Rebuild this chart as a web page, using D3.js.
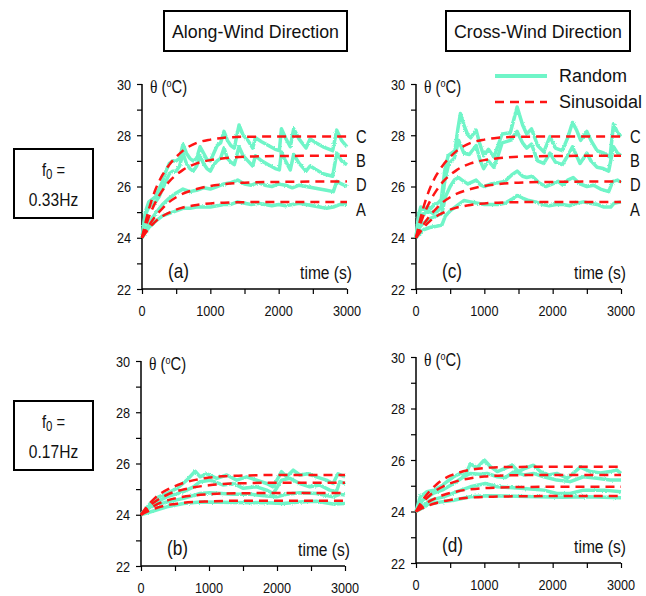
<!DOCTYPE html>
<html>
<head>
<meta charset="utf-8">
<script src="https://cdn.jsdelivr.net/npm/d3@7"></script>
<style>
  body { margin: 0; background: #fff; }
  text { font-family: "Liberation Sans", Arial, sans-serif; fill: #111; }
</style>
</head>
<body>
<div id="d3-container"></div>
<script>
/**
 * CONSTANTS AND GLOBALS
 * */
const width = 646,
  height = 596;

const greenColor = "#6ff5c8",
  redColor = "#ff1414",
  squeeze = 0.82; // the figure uses a condensed face

/**
 * DATA
 * */
const xTicks = [0, 1000, 2000, 3000];
const yTicks = [22, 24, 26, 28, 30];
const curveNames = ["C", "B", "D", "A"];
const curveLabelValues = [27.95, 27.0, 26.05, 25.1];

// sinusoidal input, shared time grid
const sinTimes = [0, 100, 200, 300, 400, 500, 600, 800, 1000, 1200, 1500, 2000, 3000];
const a_sinC = [24, 25.1, 25.9, 26.45, 26.85, 27.15, 27.4, 27.7, 27.83, 27.9, 27.94, 27.95, 27.95];
const a_sinB = [24, 24.8, 25.4, 25.85, 26.2, 26.45, 26.65, 26.9, 27.03, 27.1, 27.16, 27.19, 27.2];
const a_sinD = [24, 24.47, 24.85, 25.15, 25.4, 25.58, 25.72, 25.9, 26.02, 26.09, 26.15, 26.18, 26.2];
const a_sinA = [24, 24.36, 24.64, 24.84, 24.98, 25.1, 25.18, 25.28, 25.34, 25.37, 25.39, 25.4, 25.4];

const b_sin1 = [24, 24.36, 24.64, 24.85, 25.0, 25.12, 25.22, 25.36, 25.45, 25.5, 25.53, 25.55, 25.55];
const b_sin2 = [24, 24.28, 24.5, 24.67, 24.8, 24.9, 24.97, 25.08, 25.15, 25.2, 25.23, 25.25, 25.25];
const b_sin3 = [24, 24.2, 24.36, 24.48, 24.57, 24.64, 24.69, 24.76, 24.8, 24.83, 24.84, 24.85, 24.85];
const b_sin4 = [24, 24.13, 24.24, 24.32, 24.38, 24.42, 24.46, 24.5, 24.52, 24.54, 24.55, 24.55, 24.55];

const d_sin1 = [24, 24.45, 24.79, 25.05, 25.25, 25.39, 25.49, 25.62, 25.69, 25.72, 25.73, 25.74, 25.74];
const d_sin2 = [24, 24.35, 24.62, 24.83, 24.98, 25.09, 25.18, 25.29, 25.36, 25.39, 25.41, 25.42, 25.42];
const d_sin3 = [24, 24.22, 24.4, 24.53, 24.64, 24.72, 24.78, 24.86, 24.91, 24.93, 24.95, 24.96, 24.96];
const d_sin4 = [24, 24.14, 24.25, 24.33, 24.4, 24.45, 24.49, 24.54, 24.57, 24.58, 24.59, 24.6, 24.6];

// random input, [time, theta]
const a_randC = [[0,24],[50,25.0],[100,25.4],[150,25.5],[200,25.6],[250,25.9],[300,26.2],[350,26.6],[400,26.9],[450,27.0],[500,27.0],[550,27.1],[600,27.65],[650,27.3],[700,27.1],[750,27.0],[800,27.1],[850,27.55],[900,27.3],[950,27.05],[1000,27.0],[1050,27.3],[1100,27.6],[1150,27.7],[1200,28.15],[1250,27.8],[1300,27.6],[1350,27.5],[1420,28.4],[1480,28.0],[1550,27.8],[1620,27.5],[1660,27.9],[1750,27.75],[1850,27.6],[1950,27.45],[2010,27.4],[2040,28.25],[2100,27.9],[2170,27.55],[2220,28.25],[2300,27.85],[2400,27.5],[2460,27.85],[2550,27.7],[2650,27.55],[2790,27.4],[2850,28.2],[2920,27.8],[3000,27.55]];
const a_randB = [[0,24],[50,24.9],[100,25.2],[150,25.3],[200,25.4],[250,25.6],[300,25.9],[350,26.2],[400,26.5],[450,26.6],[500,26.6],[550,26.8],[600,27.3],[650,26.9],[700,26.7],[750,26.6],[800,26.8],[850,27.2],[900,26.9],[950,26.7],[1000,26.6],[1050,26.85],[1100,27.0],[1150,27.1],[1200,27.5],[1250,27.1],[1300,26.95],[1350,26.85],[1420,27.55],[1480,27.2],[1550,27.0],[1620,26.8],[1660,27.2],[1750,27.0],[1850,26.85],[1950,26.7],[2010,26.65],[2040,27.35],[2100,27.0],[2170,26.65],[2220,27.25],[2300,26.9],[2400,26.6],[2460,26.8],[2550,26.65],[2650,26.5],[2790,26.4],[2850,27.3],[2920,27.0],[3000,26.85]];
const a_randD = [[0,24],[100,24.6],[200,24.95],[300,25.3],[400,25.55],[500,25.75],[600,25.9],[700,25.8],[800,25.85],[900,25.95],[1000,25.9],[1100,26.0],[1200,26.1],[1300,26.15],[1400,26.25],[1500,26.1],[1600,26.05],[1700,26.15],[1800,26.05],[1900,26.0],[2000,26.1],[2100,26.05],[2200,25.95],[2300,26.05],[2400,26.0],[2500,25.95],[2600,25.9],[2700,25.85],[2800,25.8],[2850,26.2],[2920,26.1],[3000,26.0]];
const a_randA = [[0,24],[100,24.4],[200,24.65],[300,24.85],[400,24.95],[500,25.05],[600,25.15],[700,25.15],[800,25.2],[900,25.2],[1000,25.2],[1100,25.25],[1200,25.3],[1300,25.3],[1400,25.4],[1500,25.35],[1600,25.3],[1700,25.35],[1800,25.3],[1900,25.25],[2000,25.3],[2100,25.25],[2200,25.3],[2300,25.35],[2400,25.3],[2500,25.25],[2600,25.2],[2700,25.15],[2800,25.2],[2900,25.3],[3000,25.3]];

const c_randC = [[0,24],[40,24.9],[70,25.2],[120,25.1],[170,25.2],[220,25.15],[270,25.3],[320,25.35],[370,25.5],[420,26.6],[470,27.2],[520,27.3],[570,27.4],[610,28.2],[650,28.85],[700,28.4],[760,28.0],[800,27.9],[880,28.2],[930,27.7],[990,27.2],[1060,27.45],[1140,27.15],[1200,27.6],[1260,28.05],[1380,28.1],[1480,29.1],[1560,28.4],[1620,28.05],[1690,28.25],[1780,27.6],[1870,27.35],[1960,27.95],[2040,27.5],[2140,27.4],[2220,27.9],[2290,28.5],[2350,28.2],[2410,27.8],[2500,28.15],[2560,27.8],[2650,27.4],[2750,27.3],[2840,27.15],[2890,28.45],[2950,28.1],[3000,27.95]];
const c_randB = [[0,24],[50,25.0],[100,24.9],[170,25.05],[250,24.95],[320,25.05],[370,25.2],[420,26.2],[480,26.9],[560,27.1],[624,27.8],[700,27.3],[780,27.25],[880,27.6],[940,27.0],[990,26.7],[1060,27.0],[1140,26.75],[1200,27.2],[1260,27.7],[1380,27.8],[1480,28.15],[1560,27.7],[1620,27.5],[1690,27.65],[1780,27.0],[1870,26.9],[1960,27.3],[2040,26.95],[2140,26.85],[2220,27.2],[2290,27.55],[2350,27.2],[2400,26.9],[2500,27.3],[2560,27.0],[2650,26.75],[2740,26.7],[2820,26.6],[2890,27.55],[2950,27.3],[3000,27.2]];
const c_randD = [[0,24],[50,24.4],[100,24.55],[200,24.75],[300,24.85],[380,24.95],[430,25.6],[500,26.0],[560,26.25],[620,26.35],[700,26.2],[760,26.1],[880,26.25],[950,26.05],[1000,26.0],[1100,26.1],[1200,26.15],[1300,26.2],[1400,26.45],[1480,26.6],[1560,26.4],[1620,26.35],[1700,26.4],[1800,26.15],[1900,26.0],[2000,26.1],[2080,26.2],[2150,26.05],[2220,26.25],[2300,26.35],[2400,26.1],[2500,26.0],[2600,26.05],[2700,25.9],[2820,25.8],[2880,26.2],[2950,26.25],[3000,26.15]];
const c_randA = [[0,24],[100,24.3],[200,24.4],[300,24.45],[380,24.5],[430,24.85],[500,25.05],[600,25.25],[700,25.45],[800,25.4],[900,25.35],[1000,25.3],[1100,25.3],[1200,25.3],[1300,25.35],[1400,25.5],[1480,25.65],[1560,25.55],[1650,25.45],[1750,25.4],[1850,25.3],[1950,25.25],[2050,25.3],[2150,25.3],[2250,25.25],[2350,25.35],[2450,25.4],[2550,25.35],[2650,25.3],[2750,25.2],[2850,25.2],[2900,25.35],[3000,25.4]];

const b_rand1 = [[0,24],[137,24.44],[260,24.7],[381,24.83],[528,25.03],[674,25.35],[796,25.7],[870,25.48],[967,25.6],[1114,25.42],[1261,25.55],[1407,25.35],[1554,25.48],[1700,25.35],[1847,25.22],[1945,25.09],[2067,25.68],[2140,25.48],[2238,25.74],[2335,25.55],[2458,25.6],[2580,25.48],[2726,25.35],[2824,25.22],[2897,25.6],[3000,25.48]];
const b_rand2 = [[0,24],[137,24.38],[381,24.7],[625,24.9],[772,25.09],[870,25.29],[1016,25.35],[1212,25.16],[1358,25.22],[1505,25.03],[1700,25.09],[1847,24.96],[1945,24.83],[2067,25.35],[2190,25.42],[2335,25.22],[2482,25.09],[2628,25.16],[2775,24.96],[2873,24.9],[2922,25.29],[3000,25.22]];
const b_rand3 = [[0,24],[137,24.31],[381,24.5],[625,24.64],[870,24.83],[1016,24.86],[1358,24.8],[1603,24.8],[1847,24.73],[1994,24.7],[2140,24.8],[2335,24.86],[2580,24.83],[2824,24.7],[2922,24.8],[3000,24.77]];
const b_rand4 = [[0,24],[381,24.31],[625,24.44],[870,24.5],[1358,24.48],[1847,24.47],[2090,24.44],[2335,24.5],[2580,24.53],[2824,24.42],[3000,24.44]];

const d_rand1 = [[0,24],[63,24.57],[161,24.77],[258,24.83],[356,24.96],[454,25.16],[551,25.35],[649,25.48],[722,25.42],[795,25.85],[893,25.7],[1000,26.0],[1090,25.74],[1190,25.55],[1310,25.68],[1410,25.8],[1500,25.55],[1600,25.68],[1720,25.8],[1820,25.55],[1940,25.42],[2060,25.48],[2210,25.29],[2405,25.72],[2550,25.55],[2700,25.5],[2840,25.55],[2940,25.61],[3000,25.48]];
const d_rand2 = [[0,24],[100,24.45],[250,24.7],[400,24.85],[551,25.09],[698,25.35],[795,25.48],[940,25.45],[1040,25.48],[1190,25.35],[1310,25.32],[1434,25.55],[1580,25.42],[1720,25.48],[1870,25.35],[2060,25.22],[2258,25.16],[2450,25.35],[2650,25.29],[2840,25.22],[3000,25.22]];
const d_rand3 = [[0,24],[210,24.44],[405,24.57],[600,24.77],[795,24.96],[1015,25.09],[1190,24.96],[1530,24.9],[1870,24.83],[2060,24.7],[2258,24.7],[2450,24.83],[2750,24.83],[3000,24.77]];
const d_rand4 = [[0,24],[210,24.31],[551,24.44],[795,24.57],[1040,24.61],[1290,24.6],[1770,24.57],[2160,24.55],[2500,24.57],[3000,24.53]];

/**
 * LAYOUT
 * */
const panels = [
  { id: "(a)", left: 142, right: 347, top: 84, bottom: 289, rand: [a_randC, a_randB, a_randD, a_randA], sin: [a_sinC, a_sinB, a_sinD, a_sinA], labels: true },
  { id: "(c)", left: 416, right: 621, top: 84, bottom: 289, rand: [c_randC, c_randB, c_randD, c_randA], sin: [a_sinC, a_sinB, a_sinD, a_sinA], labels: true },
  { id: "(b)", left: 141, right: 345, top: 361, bottom: 566, rand: [b_rand1, b_rand2, b_rand3, b_rand4], sin: [b_sin1, b_sin2, b_sin3, b_sin4], labels: false },
  { id: "(d)", left: 416, right: 621, top: 357, bottom: 563, rand: [d_rand1, d_rand2, d_rand3, d_rand4], sin: [d_sin1, d_sin2, d_sin3, d_sin4], labels: false }
];

const svg = d3
  .select("#d3-container")
  .append("svg")
  .attr("width", width)
  .attr("height", height);

// slight roughness for the measured (random) traces
const defs = svg.append("defs");
const rough = defs.append("filter").attr("id", "rough")
  .attr("x", "-5%").attr("y", "-20%").attr("width", "110%").attr("height", "140%");
rough.append("feTurbulence").attr("type", "fractalNoise").attr("baseFrequency", 0.9)
  .attr("numOctaves", 1).attr("seed", 3).attr("result", "noise");
rough.append("feDisplacementMap").attr("in", "SourceGraphic").attr("in2", "noise")
  .attr("scale", 2.5).attr("xChannelSelector", "R").attr("yChannelSelector", "G");

// condensed text: regular face squeezed horizontally
function narrowText(parent, x, y, size, anchor) {
  return parent.append("text")
    .attr("transform", `translate(${x},${y}) scale(${squeeze},1)`)
    .attr("text-anchor", anchor || "start")
    .attr("font-size", size);
}

/**
 * HEADER AND ROW BOXES
 * */
function textBox(x, y, w, h) {
  svg.append("rect")
    .attr("x", x).attr("y", y)
    .attr("width", w).attr("height", h)
    .attr("fill", "none")
    .attr("stroke", "#000")
    .attr("stroke-width", 2);
}

textBox(164, 11, 183, 40);
svg.append("text").attr("x", 172).attr("y", 38)
  .attr("font-size", 19).attr("textLength", 167).attr("lengthAdjust", "spacingAndGlyphs")
  .text("Along-Wind Direction");
textBox(446, 11, 184, 40);
svg.append("text").attr("x", 454).attr("y", 38)
  .attr("font-size", 19).attr("textLength", 168).attr("lengthAdjust", "spacingAndGlyphs")
  .text("Cross-Wind Direction");

[{ y: 149, f: "0.33Hz" }, { y: 401, f: "0.17Hz" }].forEach(b => {
  textBox(14, b.y, 79, 69);
  const t1 = narrowText(svg, 53.5, b.y + 27, 18, "middle");
  t1.append("tspan").text("f");
  t1.append("tspan").attr("font-size", 14).attr("dy", 3).text("0");
  t1.append("tspan").attr("dy", -3).text(" =");
  narrowText(svg, 53.5, b.y + 57, 19, "middle").text(b.f);
});

/**
 * PANELS
 * */
panels.forEach(p => {
  const xScale = d3.scaleLinear().domain([0, 3000]).range([p.left, p.right]);
  const yScale = d3.scaleLinear().domain([22, 30]).range([p.bottom, p.top]);

  const g = svg.append("g");

  // minor ticks
  const xAxis = d3.axisBottom(xScale).tickValues(d3.range(0, 3001, 500)).tickSize(5).tickFormat("");
  const yAxis = d3.axisLeft(yScale).tickValues(d3.range(22, 30.1, 1)).tickSize(5).tickFormat("");

  g.append("g")
    .attr("transform", `translate(0,${p.bottom})`)
    .call(xAxis)
    .call(s => s.select(".domain").attr("stroke-width", 1.5).attr("d", `M${p.left},0H${p.right}`));
  g.append("g")
    .attr("transform", `translate(${p.left},0)`)
    .call(yAxis)
    .call(s => s.select(".domain").attr("stroke-width", 1.5).attr("d", `M0,${p.top}V${p.bottom}`));
  g.selectAll(".tick line").attr("stroke-width", 1.2);

  // tick labels
  xTicks.forEach(d => narrowText(g, xScale(d), p.bottom + 27, 15.5, "middle").text(d));
  yTicks.forEach(d => narrowText(g, p.left - 11, yScale(d) + 5.5, 15.5, "end").text(d));

  // axis titles
  const th = narrowText(g, p.left + 8, p.top + 9, 18);
  th.append("tspan").attr("font-family", "Liberation Serif, serif").attr("font-size", 19).text("θ");
  th.append("tspan").text(" (");
  th.append("tspan").attr("font-size", 11).attr("dy", -6).text("o");
  th.append("tspan").attr("dy", 6).text("C)");

  narrowText(g, p.right + 5, p.bottom - 10, 19, "end").text("time (s)");
  narrowText(g, p.left + 26, p.bottom - 11, 21).text(p.id);

  // random curves
  const randLine = d3.line().x(d => xScale(d[0])).y(d => yScale(d[1]));
  g.append("g")
    .attr("filter", "url(#rough)")
    .selectAll(".rand")
    .data(p.rand)
    .join("path")
    .attr("class", "rand")
    .attr("fill", "none")
    .attr("stroke", greenColor)
    .attr("stroke-width", 3.5)
    .attr("stroke-linejoin", "round")
    .attr("d", randLine);

  // sinusoidal curves
  const sinLine = d3.line()
    .x((d, i) => xScale(sinTimes[i]))
    .y(d => yScale(d))
    .curve(d3.curveMonotoneX);
  g.selectAll(".sin")
    .data(p.sin)
    .join("path")
    .attr("class", "sin")
    .attr("fill", "none")
    .attr("stroke", redColor)
    .attr("stroke-width", 2.5)
    .attr("stroke-dasharray", "9,6")
    .attr("d", sinLine);

  if (p.labels) {
    curveNames.forEach((d, i) =>
      narrowText(g, p.right + 9, yScale(curveLabelValues[i]) + 6, 18).text(d));
  }
});

/**
 * LEGEND
 * */
svg.append("line").attr("x1", 495).attr("x2", 547).attr("y1", 76).attr("y2", 76)
  .attr("stroke", greenColor).attr("stroke-width", 4);
svg.append("text").attr("x", 559).attr("y", 82).attr("font-size", 18).text("Random");
svg.append("line").attr("x1", 495).attr("x2", 547).attr("y1", 102).attr("y2", 102)
  .attr("stroke", redColor).attr("stroke-width", 2.5).attr("stroke-dasharray", "9,6");
svg.append("text").attr("x", 559).attr("y", 108).attr("font-size", 18).text("Sinusoidal");
</script>
</body>
</html>
